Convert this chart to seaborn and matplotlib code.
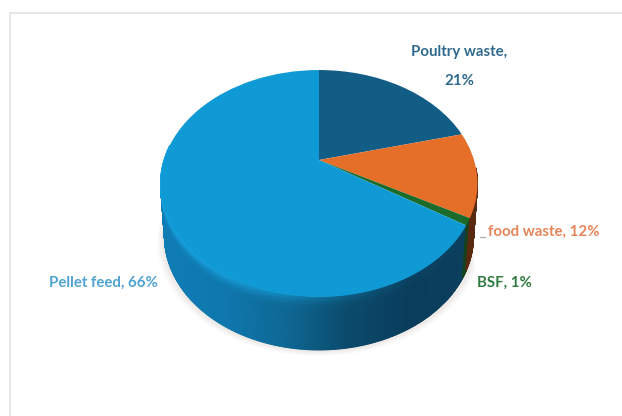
import numpy as np
import matplotlib
matplotlib.use('Agg')
import matplotlib.pyplot as plt
import matplotlib.transforms as mtransforms
from matplotlib.path import Path
import seaborn as sns

# clockwise from twelve o'clock
categories = ['Poultry waste', 'food waste', 'BSF', 'Pellet feed']
values = [21, 12, 1, 66]
top_colors = ['#125D86', '#E56F28', '#1B6B2A', '#0F9AD6']
label_colors = ['#2F6A8E', '#E8845A', '#2F7A3F', '#4FA3D0']

sns.set_theme(style='white')
plt.rcParams['font.family'] = ['Lato', 'DejaVu Sans']

# pie geometry in pixels of the image
CX, CY = 319, 160
RX, RY = 155, 108.6
TILT = 0.207
DEPTH = 53
BOTTOM_SHRINK = 0.025


class TiltedDisc(mtransforms.Transform):
    """Takes the unit pie to the picture, far edge squeezed like in a 3D view."""
    input_dims = 2
    output_dims = 2

    def transform_non_affine(self, xy):
        xy = np.asarray(xy, dtype=float)
        w = 1 + TILT * xy[:, 1]
        return np.column_stack([CX + RX * xy[:, 0] / w, CY - RY * xy[:, 1] / w])

    def transform_path_non_affine(self, path):
        return Path(self.transform_non_affine(path.vertices), path.codes)


def rim_points(degs):
    # degs in the usual pie sense, counter clockwise from 3 o'clock
    rad = np.radians(degs)
    return TiltedDisc().transform_non_affine(np.column_stack([np.cos(rad), np.sin(rad)]))


def draw_wall(ax, d0, d1, main, rim):
    # one stretch of the side wall, main and rim are colours per angle step
    degs = np.arange(d0, d1 + 0.5, 0.5)
    degs[-1] = d1
    pts = rim_points(degs)
    drops = np.array([0, 2, 5, 9, 14, DEPTH], dtype=float)
    mix = np.array([0, 0.2, 0.55, 0.85, 1, 1])
    X = CX + np.outer(pts[:, 0] - CX, 1 - BOTTOM_SHRINK * drops / DEPTH)
    Y = pts[:, 1][:, None] + drops[None, :]
    idx = np.clip((pts[:, 0] - 159).astype(int), 0, len(main) - 1)
    C = np.array(rim)[idx][:, None, :] * (1 - mix[None, :, None]) \
        + np.array(main)[idx][:, None, :] * mix[None, :, None]
    ax.pcolormesh(X, Y, C, shading='gouraud', zorder=2, clip_on=False)


fig = plt.figure(figsize=(6.22, 4.16), dpi=100)
ax = fig.add_axes([0, 0, 1, 1])

wedges, _ = ax.pie(values, colors=top_colors, startangle=90, counterclock=False,
                   wedgeprops={'linewidth': 0})

disc = TiltedDisc() + ax.transData
for w in wedges:
    w.set_transform(disc)
    w.set_clip_on(False)
    w.set_zorder(5)

# picture frame
ax.plot([9.5, 9.5, 622], [416, 12.5, 12.5], color='#E2E2E2', lw=1.2, zorder=0)

# where the slices end on the rim, in pie degrees
food_end = 90 - 360 * (values[0] + values[1]) / 100 + 360
bsf_end = food_end - 360 * values[2] / 100

# soft shadow under the side wall
shadow_deg = np.arange(172, 335, 2.0)
for grow, a in zip([7, 5, 3], [0.05, 0.07, 0.09]):
    top = rim_points(shadow_deg)
    pts = top.copy()
    pts[:, 0] = CX + (pts[:, 0] - CX) * (1 + grow / 155 - BOTTOM_SHRINK)
    pts[:, 1] += DEPTH + grow * 0.8
    ax.fill(np.r_[pts[:, 0], top[::-1, 0]], np.r_[pts[:, 1], top[::-1, 1]],
            color='#B09A90', alpha=a, lw=0, zorder=1)

# side wall, gradient runs left to right
wall_main = sns.blend_palette(['#0F7DB5', '#0F78AE', '#0E6895', '#0B4B6C', '#0A3D5C', '#0C3F5E'], 316)
wall_rim = sns.blend_palette(['#1AA6E2', '#18A0DA', '#1488BC', '#0E5E86', '#0B4565', '#0B4262'], 316)
draw_wall(ax, 172, bsf_end, wall_main, wall_rim)
draw_wall(ax, bsf_end, food_end, sns.blend_palette(['#17421E', '#17421E'], 316),
          sns.blend_palette(['#17421E', '#17421E'], 316))
draw_wall(ax, food_end, 356, sns.blend_palette(['#5A2A10', '#5A2A10'], 316),
          sns.blend_palette(['#5A2A10', '#5A2A10'], 316))

ax.set_aspect('auto')
ax.set_xlim(0, 622)
ax.set_ylim(416, 0)
ax.axis('off')

# labels
txt = dict(fontweight='bold', fontsize=10.8, va='center', zorder=6)
ax.text(459, 52, f'{categories[0]},', color=label_colors[0], ha='center', **txt)
ax.text(459, 81, f'{values[0]}%', color=label_colors[0], ha='center', **txt)
ax.text(488, 232, f'{categories[1]}, {values[1]}%', color=label_colors[1], ha='left', **txt)
ax.plot([480, 485], [236.5, 236.5], color='#B9B0A8', lw=1, zorder=6)
ax.text(477, 283, f'{categories[2]}, {values[2]}%', color=label_colors[2], ha='left', **txt)
ax.text(49, 283, f'{categories[3]}, {values[3]}%', color=label_colors[3], ha='left', **txt)

fig.savefig('out.png', dpi=100)
plt.close(fig)
